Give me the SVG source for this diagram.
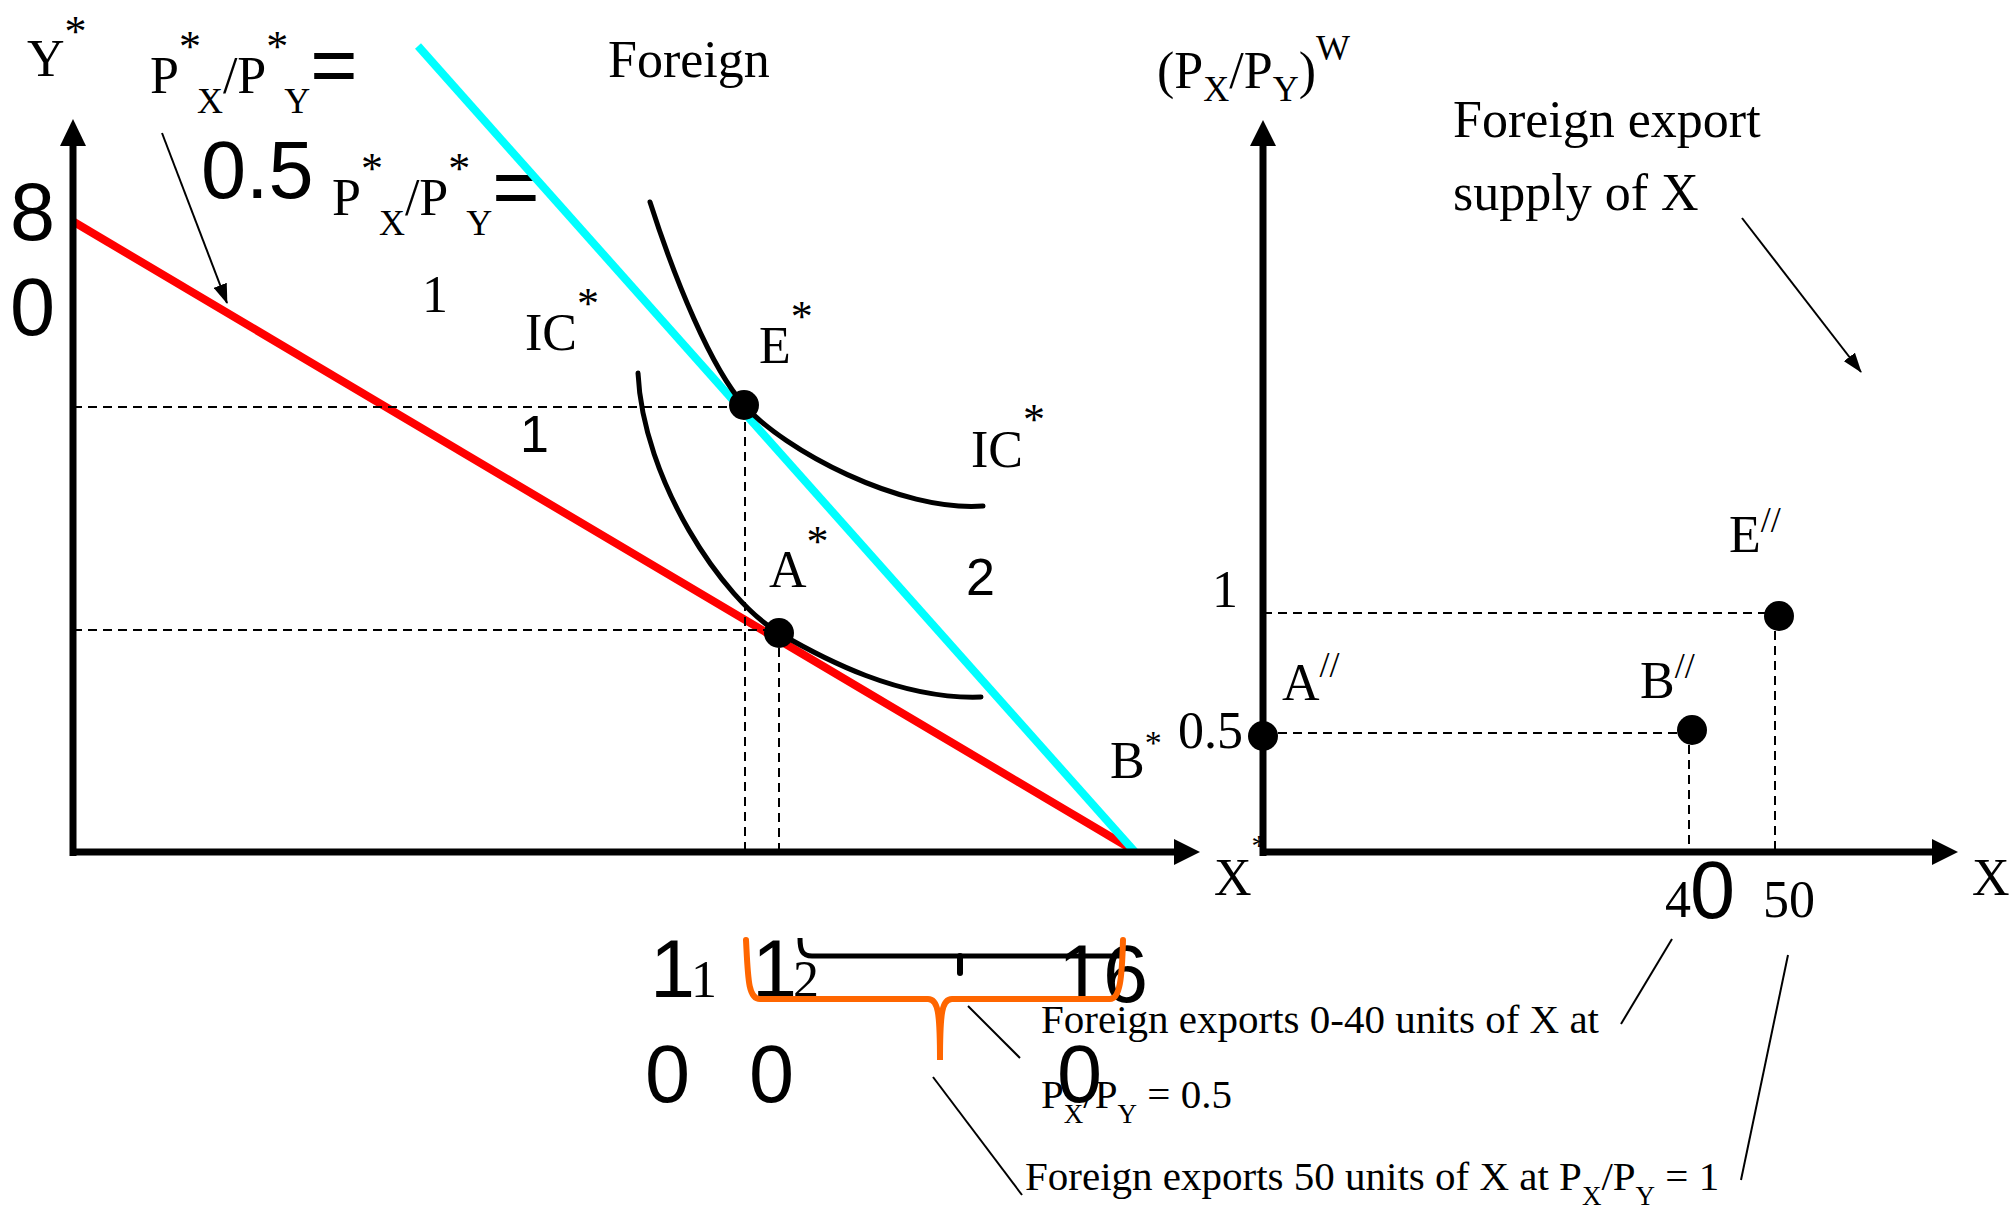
<svg xmlns="http://www.w3.org/2000/svg" width="2015" height="1207" viewBox="0 0 2015 1207">
<defs>
<style>
.t{font-family:"Liberation Serif","Times New Roman",serif;font-size:52px;fill:#000}
.s{font-size:36px}
.st{font-size:44px;letter-spacing:-4px}
.a{font-family:"Liberation Sans",Arial,sans-serif;font-size:81px;fill:#000}
.a52{font-family:"Liberation Sans",Arial,sans-serif;font-size:52px;fill:#000}
.b{font-family:"Liberation Serif","Times New Roman",serif;font-size:41px;fill:#000}
.bs{font-size:27px}
.axis{stroke:#000;stroke-width:7;fill:none}
.dash{stroke:#000;stroke-width:2;stroke-dasharray:9 6;fill:none}
.thin{stroke:#000;stroke-width:2;fill:none}
.ic{stroke:#000;stroke-width:5;fill:none;stroke-linecap:round}
</style>
<marker id="ah" markerUnits="userSpaceOnUse" markerWidth="20" markerHeight="14" refX="19" refY="7" orient="auto">
<path d="M0,0 L20,7 L0,14 z" fill="#000"/>
</marker>
</defs>
<rect width="2015" height="1207" fill="#fff"/>

<g id="labels-left">
<text class="t" x="27" y="76">Y<tspan class="st" dy="-30">*</tspan></text>
<text class="t" x="150" y="93">P<tspan class="st" dy="-32">*</tspan><tspan class="s" dy="52">X</tspan><tspan dy="-20">/P</tspan><tspan class="st" dy="-32">*</tspan><tspan class="s" dy="52">Y</tspan><tspan class="a" dy="-20">=</tspan></text>
<text class="a" x="201" y="198">0.5</text>
<text class="t" x="332" y="215">P<tspan class="st" dy="-32">*</tspan><tspan class="s" dy="52">X</tspan><tspan dy="-20">/P</tspan><tspan class="st" dy="-32">*</tspan><tspan class="s" dy="52">Y</tspan><tspan class="a" dy="-20">=</tspan></text>
<text class="t" x="422" y="312">1</text>
<text class="a" x="10" y="240">8</text>
<text class="a" x="10" y="335">0</text>
<text class="t" x="608" y="77">Foreign</text>
<text class="t" x="525" y="350">IC<tspan class="st" dy="-32">*</tspan></text>
<text class="t" x="759" y="363">E<tspan class="st" dy="-32">*</tspan></text>
<text class="t" x="971" y="467">IC<tspan class="st" dy="-33">*</tspan></text>
<text class="t" x="769" y="587">A<tspan class="st" dy="-31">*</tspan></text>
<text class="t" x="1110" y="778">B<tspan style="font-size:34px" dy="-24">*</tspan></text>
<text class="a52" x="520" y="452">1</text>
<text class="a52" x="966" y="595">2</text>
</g>

<g id="budget-lines">
<line x1="74" y1="222" x2="1133" y2="850" stroke="#FF0000" stroke-width="8"/>
<line x1="418" y1="46" x2="1135" y2="852" stroke="#00FFFF" stroke-width="8"/>
</g>

<g id="indifference-curves">
<path class="ic" d="M650,202 C675,280 711,368 744,405 C784,450 900,512 983,506"/>
<path class="ic" d="M638,373 C643,480 722,599 779,633 C822,658 900,700 981,697"/>
</g>

<g id="guides">
<line class="dash" x1="73" y1="407" x2="744" y2="407"/>
<line class="dash" x1="73" y1="630" x2="779" y2="630"/>
<line class="dash" x1="745" y1="407" x2="745" y2="852"/>
<line class="dash" x1="779" y1="633" x2="779" y2="852"/>
<line class="dash" x1="1263" y1="613" x2="1779" y2="613"/>
<line class="dash" x1="1263" y1="733" x2="1692" y2="733"/>
<line class="dash" x1="1775" y1="616" x2="1775" y2="852"/>
<line class="dash" x1="1689" y1="730" x2="1689" y2="852"/>
</g>

<g id="x-star-label">
<text class="t" x="1214" y="895">X<tspan style="font-size:30px" dy="-40">*</tspan></text>
</g>

<g id="axes">
<line class="axis" x1="73" y1="856" x2="73" y2="140"/>
<polygon points="73,119 60,146 86,146" fill="#000"/>
<line class="axis" x1="70" y1="852" x2="1178" y2="852"/>
<polygon points="1200,852 1174,839 1174,865" fill="#000"/>
<line class="axis" x1="1263" y1="856" x2="1263" y2="140"/>
<polygon points="1263,120 1250,146 1276,146" fill="#000"/>
<line class="axis" x1="1260" y1="852" x2="1936" y2="852"/>
<polygon points="1958,852 1932,839 1932,865" fill="#000"/>
</g>

<g id="points">
<circle id="E-star" cx="744" cy="405" r="15" fill="#000"/>
<circle id="A-star" cx="779" cy="633" r="15" fill="#000"/>
<circle id="A2" cx="1263" cy="736" r="15" fill="#000"/>
<circle id="B2" cx="1692" cy="730" r="15" fill="#000"/>
<circle id="E2" cx="1779" cy="616" r="15" fill="#000"/>
</g>

<g id="labels-right">
<text class="t" x="1157" y="88">(P<tspan class="s" dy="13">X</tspan><tspan dy="-13">/P</tspan><tspan class="s" dy="13">Y</tspan><tspan dy="-13">)</tspan><tspan class="s" dy="-28">W</tspan></text>
<text class="t" x="1453" y="137">Foreign export</text>
<text class="t" x="1453" y="210">supply of X</text>
<text class="t" x="1212" y="607">1</text>
<text class="t" x="1178" y="748">0.5</text>
<text class="t" x="1282" y="700">A<tspan class="s" dy="-23">//</tspan></text>
<text class="t" x="1640" y="698">B<tspan class="s" dy="-20">//</tspan></text>
<text class="t" x="1729" y="552">E<tspan class="s" dy="-20">//</tspan></text>
<text class="t" x="1972" y="895">X</text>
<text class="t" x="1665" y="917">4</text>
<text class="a" x="1690" y="918">0</text>
<text class="t" x="1763" y="917">50</text>
</g>

<g id="bottom-labels">
<text class="a" x="650" y="997">1</text>
<text class="t" x="691" y="997">1</text>
<text class="a" x="645" y="1102">0</text>
<text class="a" x="752" y="997">1</text>
<text class="t" x="793" y="997">2</text>
<text class="a" x="749" y="1102">0</text>
<path d="M800,938 C800,950 802,956 812,956 L1120,956" stroke="#000" stroke-width="5" fill="none"/>
<path d="M960,956 L960,973" stroke="#000" stroke-width="6" stroke-linecap="round"/>
<text class="a" x="1058" y="1002">16</text>
<path d="M746,940 C748,978 748,999 760,999 L928,999 C938,999 940,1012 940,1060 C940,1012 942,999 952,999 L1110,999 C1120,999 1122,978 1123,940" stroke="#FF6600" stroke-width="6" fill="none" stroke-linecap="round"/>
<text class="b" x="1041" y="1033">Foreign exports 0-40 units of X at</text>
<text class="b" x="1041" y="1108">P<tspan class="bs" dy="15">X</tspan><tspan dy="-15">/P</tspan><tspan class="bs" dy="15">Y</tspan><tspan dy="-15"> = 0.5</tspan></text>
<text class="a" x="1057" y="1102">0</text>
<text class="b" x="1025" y="1190">Foreign exports 50 units of X at P<tspan class="bs" dy="15">X</tspan><tspan dy="-15">/P</tspan><tspan class="bs" dy="15">Y</tspan><tspan dy="-15"> = 1</tspan></text>
</g>

<g id="connectors">
<line class="thin" x1="162" y1="133" x2="227" y2="303" marker-end="url(#ah)"/>
<line class="thin" x1="1742" y1="218" x2="1861" y2="372" marker-end="url(#ah)"/>
<line class="thin" x1="968" y1="1006" x2="1020" y2="1058"/>
<line class="thin" x1="933" y1="1077" x2="1022" y2="1195"/>
<line class="thin" x1="1672" y1="939" x2="1621" y2="1024"/>
<line class="thin" x1="1788" y1="955" x2="1741" y2="1180"/>
</g>
</svg>
